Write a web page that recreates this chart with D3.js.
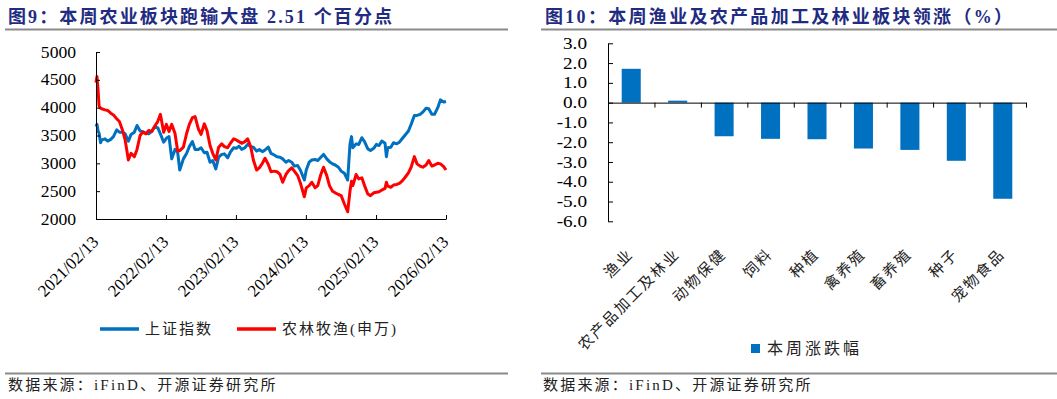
<!DOCTYPE html>
<html>
<head>
<meta charset="utf-8">
<script src="https://cdn.jsdelivr.net/npm/d3@7"></script>
<style>
  html, body { margin: 0; padding: 0; background: #fff; }
  svg { display: block; font-family: "Liberation Serif", "Noto Sans CJK SC", serif; }
</style>
</head>
<body>
<svg id="chart" width="1057" height="399"></svg>
<script>
// ---- left chart: index levels ----
var lineDates = [
  "2021-02-13","2021-02-18","2021-02-24","2021-03-01","2021-03-09","2021-03-15","2021-04-01","2021-04-15",
  "2021-05-01","2021-05-15","2021-06-01","2021-06-15","2021-07-01","2021-07-15","2021-08-01","2021-08-15",
  "2021-09-01","2021-09-15","2021-10-01","2021-10-15","2021-11-01","2021-11-15","2021-12-01","2021-12-15",
  "2022-01-01","2022-01-15","2022-02-01","2022-02-15","2022-03-01","2022-03-15","2022-04-01","2022-04-15",
  "2022-04-26","2022-05-15","2022-06-01","2022-06-15","2022-07-01","2022-07-15","2022-08-01","2022-08-15",
  "2022-09-01","2022-09-15","2022-10-01","2022-10-15","2022-10-31","2022-11-15","2022-12-01","2022-12-15",
  "2023-01-01","2023-01-15","2023-02-01","2023-02-15","2023-03-01","2023-03-15","2023-04-01","2023-04-15",
  "2023-05-01","2023-05-15","2023-06-01","2023-06-15","2023-07-01","2023-07-15","2023-08-01","2023-08-15",
  "2023-09-01","2023-09-15","2023-10-01","2023-10-15","2023-11-01","2023-11-15","2023-12-01","2023-12-15",
  "2024-01-01","2024-01-15","2024-02-05","2024-02-15","2024-03-01","2024-03-15","2024-04-01","2024-04-15",
  "2024-05-01","2024-05-15","2024-06-01","2024-06-15","2024-07-01","2024-07-15","2024-08-01","2024-08-15",
  "2024-09-01","2024-09-18","2024-09-30","2024-10-08","2024-10-15","2024-11-01","2024-11-15","2024-12-01",
  "2024-12-15","2025-01-01","2025-01-15","2025-02-01","2025-02-15","2025-03-01","2025-03-15","2025-04-01",
  "2025-04-08","2025-04-15","2025-05-01","2025-05-15","2025-06-01","2025-06-15","2025-07-01","2025-07-15",
  "2025-08-01","2025-08-15","2025-09-01","2025-09-15","2025-10-01","2025-10-15","2025-11-01","2025-11-15",
  "2025-12-01","2025-12-15","2026-01-01","2026-01-15","2026-02-01","2026-02-13"
];
var szIndex = [
  3660,3700,3580,3540,3370,3420,3440,3400, 3430,3480,3600,3560,3560,3530,3400,3520,
  3560,3680,3580,3570,3540,3530,3580,3650, 3640,3530,3380,3450,3480,3080,3250,3200,
  2880,3080,3180,3300,3390,3250,3250,3280, 3190,3200,3020,3050,2900,3110,3160,3170,
  3100,3200,3280,3270,3310,3250,3280,3340, 3300,3290,3220,3250,3210,3240,3290,3180,
  3150,3120,3110,3080,3020,3050,3020,2950, 2960,2880,2700,2880,3020,3060,3070,3050,
  3110,3160,3080,3030,2990,2970,2930,2860, 2820,2700,3340,3480,3280,3350,3340,3460,
  3390,3260,3230,3270,3340,3320,3400,3360, 3120,3280,3290,3370,3350,3380,3450,3510,
  3580,3700,3860,3860,3880,3920,3990,3980, 3880,3880,4000,4140,4100,4110
];
var nlmyIndex = [
  4450,4560,4300,4030,3990,3980,3960,3950, 3900,3870,3800,3750,3600,3420,3060,3180,
  3120,3250,3500,3560,3530,3590,3570,3660, 3750,3880,3560,3700,3570,3700,3540,3220,
  3230,3290,3540,3700,3820,3840,3620,3520, 3710,3590,3320,3180,3060,3290,3350,3300,
  3280,3360,3440,3420,3390,3360,3390,3440, 3300,3060,2880,2920,3000,3090,2980,2850,
  2860,2850,2800,2660,2800,2870,2920,2860, 2780,2650,2400,2560,2600,2660,2560,2600,
  2800,2930,2780,2600,2500,2470,2440,2420, 2270,2130,2500,2680,2600,2800,2720,2740,
  2600,2450,2420,2470,2480,2490,2520,2550, 2660,2590,2570,2610,2620,2640,2690,2750,
  2830,2930,3120,2990,2950,2930,2970,3050, 2950,2970,3000,2990,2940,2880
];
var lineNames = ["上证指数", "农林牧渔(申万)"];
var lineColors = ["#0070c0", "#ff0000"];
var lineTicks = [2000, 2500, 3000, 3500, 4000, 4500, 5000];
var lineTickDates = ["2021-02-13","2022-02-13","2023-02-13","2024-02-13","2025-02-13","2026-02-13"];

// ---- right chart: weekly change by sub-sector (%) ----
var sectors = ["渔业","农产品加工及林业","动物保健","饲料","种植","禽养殖","畜养殖","种子","宠物食品"];
var weekChange = [1.71, 0.10, -1.70, -1.83, -1.85, -2.32, -2.39, -2.94, -4.86];
var barTicks = [3, 2, 1, 0, -1, -2, -3, -4, -5, -6];
var barLegend = "本周涨跌幅";

var titles = ["图9：本周农业板块跑输大盘 2.51 个百分点", "图10：本周渔业及农产品加工及林业板块领涨（%）"];
var sourceNote = "数据来源：iFinD、开源证券研究所";

(function() {
    "use strict";

    var navy = "#1f2c82";
    var ruleColor = "#8a8a8a";
    var parseDate = d3.timeParse("%Y-%m-%d");
    var fmtDate = d3.timeFormat("%Y/%m/%d");

    var svg = d3.select("#chart");
    svg.append("rect").attr("width", 1057).attr("height", 399).attr("fill", "#fff");

    // titles, rules and source notes for both panels
    var panels = [
        {tx: 8, tw: 384, r0: 5, r1: 508, sx: 8},
        {tx: 545, tw: 467, r0: 541, r1: 1057, sx: 543}
    ];
    panels.forEach(function(p, i) {
        svg.append("text")
            .attr("x", p.tx).attr("y", 23)
            .attr("font-size", 18).attr("font-weight", "bold")
            .attr("fill", navy)
            .attr("textLength", p.tw).attr("lengthAdjust", "spacing")
            .text(titles[i]);
        svg.append("line")
            .attr("x1", p.r0).attr("x2", p.r1).attr("y1", 29.5).attr("y2", 29.5)
            .attr("stroke", ruleColor).attr("stroke-width", 2);
        svg.append("line")
            .attr("x1", p.r0).attr("x2", p.r1).attr("y1", 373.5).attr("y2", 373.5)
            .attr("stroke", ruleColor).attr("stroke-width", 2);
        svg.append("text")
            .attr("x", p.sx).attr("y", 390)
            .attr("font-size", 15).attr("letter-spacing", 2.2)
            .attr("fill", "#222")
            .text(sourceNote);
    });

    var cleanAxis = function(g) {
        g.attr("font-family", null).attr("font-size", null);
        g.select(".domain").attr("stroke", "#000");
        g.selectAll(".tick line").attr("stroke", "#000");
    };

    // ---------- left: line chart ----------
    var x = d3.scaleTime()
        .domain([parseDate(lineTickDates[0]), parseDate(lineTickDates[lineTickDates.length - 1])])
        .range([96, 446]);
    var y = d3.scaleLinear().domain([2000, 5000]).range([219, 52]);

    var series = [szIndex, nlmyIndex].map(function(vals) {
        return vals.map(function(v, i) { return {date: parseDate(lineDates[i]), value: v}; });
    });

    var line = d3.line()
        .x(function(d) { return x(d.date); })
        .y(function(d) { return y(d.value); });

    svg.append("g").selectAll("path")
        .data(series)
        .enter().append("path")
        .attr("d", line)
        .attr("fill", "none")
        .attr("stroke", function(d, i) { return lineColors[i]; })
        .attr("stroke-width", 3)
        .attr("stroke-linejoin", "round");

    var yAxisL = svg.append("g")
        .attr("transform", "translate(96,0)")
        .call(d3.axisLeft(y).tickValues(lineTicks).tickSizeInner(-4).tickSizeOuter(0)
            .tickFormat(function(d) { return String(d); }))
        .call(cleanAxis);
    yAxisL.selectAll(".tick text")
        .attr("x", 0)
        .attr("transform", "translate(-20,0) scale(1.1,1)")
        .attr("font-size", 16).attr("fill", "#000");

    var xAxisL = svg.append("g")
        .attr("transform", "translate(0,219)")
        .call(d3.axisBottom(x)
            .tickValues(lineTickDates.map(parseDate))
            .tickSizeInner(-4).tickSizeOuter(0)
            .tickFormat(fmtDate))
        .call(cleanAxis);
    xAxisL.selectAll(".tick text")
        .attr("x", 0).attr("y", 0).attr("dy", 0)
        .attr("text-anchor", "end")
        .attr("transform", "translate(3,24) rotate(-45)")
        .attr("font-size", 17).attr("fill", "#000");

    var legL = svg.append("g").selectAll("g")
        .data(lineNames)
        .enter().append("g")
        .attr("transform", function(d, i) { return "translate(" + [100, 237][i] + ",329)"; });
    legL.append("line")
        .attr("x1", 0).attr("x2", 39)
        .attr("stroke", function(d, i) { return lineColors[i]; })
        .attr("stroke-width", 3.5);
    legL.append("text")
        .attr("x", 45).attr("y", 5)
        .attr("font-size", 15).attr("letter-spacing", 2)
        .attr("fill", "#222")
        .text(function(d) { return d; });

    // ---------- right: bar chart ----------
    var bx = d3.scaleBand()
        .domain(sectors)
        .range([608, 1026])
        .paddingInner(0.59).paddingOuter(0.295);
    var by = d3.scaleLinear().domain([-6, 3]).range([221.3, 43.3]);
    var slots = d3.scaleLinear().domain([0, sectors.length]).range([608, 1026]);

    svg.append("g").selectAll("rect")
        .data(weekChange)
        .enter().append("rect")
        .attr("x", function(d, i) { return bx(sectors[i]); })
        .attr("width", bx.bandwidth())
        .attr("y", function(d) { return by(Math.max(0, d)); })
        .attr("height", function(d) { return Math.abs(by(d) - by(0)); })
        .attr("fill", "#0070c0");

    var yAxisR = svg.append("g")
        .attr("transform", "translate(608,0)")
        .call(d3.axisLeft(by).tickValues(barTicks).tickSizeInner(-5).tickSizeOuter(0)
            .tickFormat(function(d) { return d.toFixed(1); }))
        .call(cleanAxis);
    yAxisR.selectAll(".tick text")
        .attr("x", 0)
        .attr("transform", "translate(-21,0) scale(1.2,1)")
        .attr("font-size", 16).attr("fill", "#000");

    svg.append("g")
        .attr("transform", "translate(0," + by(0) + ")")
        .call(d3.axisBottom(slots).tickValues(d3.range(1, sectors.length + 1))
            .tickSizeInner(5).tickSizeOuter(0).tickFormat(""))
        .call(cleanAxis);

    svg.append("g").selectAll("text")
        .data(sectors)
        .enter().append("text")
        .attr("text-anchor", "end")
        .attr("transform", function(d) {
            return "translate(" + (bx(d) + bx.bandwidth() / 2 + 3) + ",255) rotate(-45)";
        })
        .attr("font-size", 15).attr("letter-spacing", 2)
        .attr("fill", "#222")
        .text(function(d) { return d; });

    svg.append("rect")
        .attr("x", 751).attr("y", 344).attr("width", 9).attr("height", 9)
        .attr("fill", "#0070c0");
    svg.append("text")
        .attr("x", 767).attr("y", 354)
        .attr("font-size", 16).attr("letter-spacing", 3)
        .attr("fill", "#222")
        .text(barLegend);
}());
</script>
</body>
</html>
